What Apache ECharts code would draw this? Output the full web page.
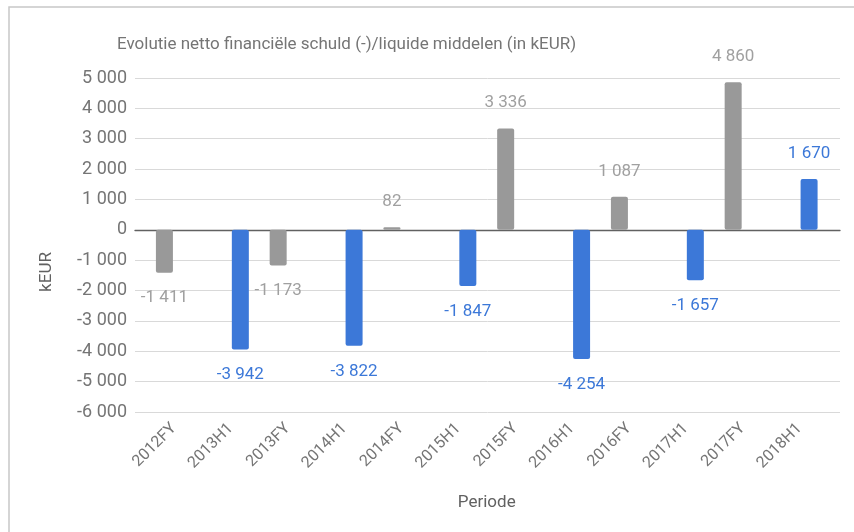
<!DOCTYPE html>
<html>
<head>
<meta charset="utf-8">
<script src="https://cdn.jsdelivr.net/npm/echarts@6/dist/echarts.min.js"></script>
<style>
    html, body { margin: 0; padding: 0; background: #fff; }
    #chart { width: 854px; height: 532px; }
</style>
</head>
<body>
<div id="chart"></div>
<script>
    // data
    var categories = ['2012FY', '2013H1', '2013FY', '2014H1', '2014FY', '2015H1', '2015FY', '2016H1', '2016FY', '2017H1', '2017FY', '2018H1'];
    var fyValues = [-1411, null, -1173, null, 82, null, 3336, null, 1087, null, 4860, null];
    var h1Values = [null, -3942, null, -3822, null, -1847, null, -4254, null, -1657, null, 1670];
    var yMin = -6000, yMax = 5000, yStep = 1000;

    function fmt(v) {
        var s = String(Math.abs(v)).replace(/\B(?=(\d{3})+(?!\d))/g, ' ');
        return (v < 0 ? '-' : '') + s;
    }

    function toItems(arr) {
        return arr.map(function (v) {
            if (v === null) return null;
            return { value: v, label: { position: v < 0 ? 'bottom' : 'top' } };
        });
    }

    var chart = echarts.init(document.getElementById('chart'));
    var font = 'Roboto, "Noto Sans", sans-serif';

    var option = {
        animation: false,
        textStyle: { fontFamily: font },
        title: {
            text: 'Evolutie netto financiële schuld (-)/liquide middelen (in kEUR)',
            left: 112,
            top: 31,
            textStyle: { fontSize: 17, fontWeight: 'normal', color: '#757575', fontFamily: font }
        },
        graphic: [{
            type: 'rect',
            shape: { x: 9, y: 7, width: 900, height: 600 },
            style: { fill: 'none', stroke: '#c8c8c8', lineWidth: 1.5 },
            silent: true
        }],
        grid: [
            { left: 145.5, right: 26, top: 78, bottom: 120 },
            { left: 135, right: 14, top: 78, bottom: 120 }
        ],
        xAxis: [
            {
                type: 'category',
                gridIndex: 0,
                data: categories,
                axisLine: { show: false, onZero: false },
                axisTick: { show: false },
                axisLabel: { rotate: 45, fontSize: 16, color: '#757575', margin: 14, interval: 0, fontFamily: font },
                name: 'Periode',
                nameLocation: 'middle',
                nameGap: 82,
                nameTextStyle: { fontSize: 17, color: '#616161', fontFamily: font }
            },
            {
                type: 'value',
                gridIndex: 1,
                min: 0, max: 1,
                axisLine: { show: true, onZero: true, lineStyle: { color: '#616161', width: 1.3 } },
                axisTick: { show: false },
                axisLabel: { show: false },
                splitLine: { show: false }
            }
        ],
        yAxis: [
            {
                type: 'value',
                gridIndex: 0,
                min: yMin, max: yMax, interval: yStep,
                axisLabel: { show: false },
                splitLine: { show: false },
                axisLine: { show: false },
                axisTick: { show: false }
            },
            {
                type: 'value',
                gridIndex: 1,
                min: yMin, max: yMax, interval: yStep,
                axisLine: { show: false },
                axisTick: { show: false },
                axisLabel: { fontSize: 18, color: '#757575', margin: 8, formatter: fmt, fontFamily: font },
                splitLine: { lineStyle: { color: '#d9d9d9', width: 1 } },
                name: 'kEUR',
                nameLocation: 'middle',
                nameGap: 80,
                nameTextStyle: { fontSize: 17, color: '#616161', padding: [0, 54, 0, 0], fontFamily: font }
            }
        ],
        series: [
            {
                name: 'FY',
                type: 'bar',
                xAxisIndex: 0,
                yAxisIndex: 0,
                data: toItems(fyValues),
                barWidth: 17,
                barGap: '12%',
                z: 3,
                itemStyle: { color: '#999999', borderRadius: 2 },
                label: {
                    show: true,
                    distance: 17,
                    fontSize: 17,
                    color: '#a0a0a0',
                    fontFamily: font,
                    formatter: function (p) { return fmt(p.value); }
                }
            },
            {
                name: 'H1',
                type: 'bar',
                xAxisIndex: 0,
                yAxisIndex: 0,
                data: toItems(h1Values),
                barWidth: 17,
                barGap: '12%',
                z: 3,
                itemStyle: { color: '#3c78d8', borderRadius: 2 },
                label: {
                    show: true,
                    distance: 17,
                    fontSize: 17,
                    color: '#3c78d8',
                    fontFamily: font,
                    formatter: function (p) { return fmt(p.value); }
                }
            }
        ]
    };

    chart.setOption(option);
</script>
</body>
</html>
